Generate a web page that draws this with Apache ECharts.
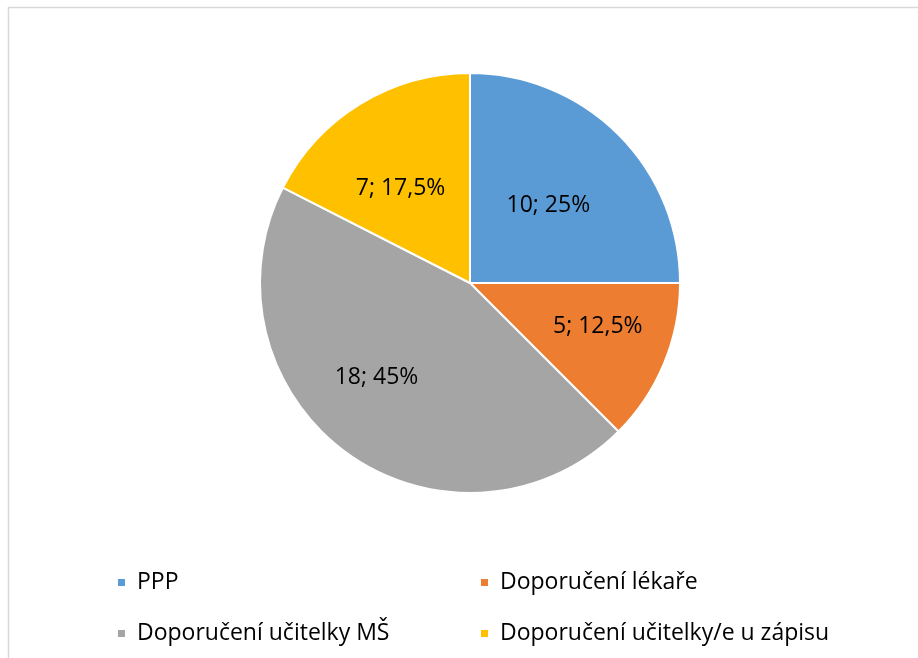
<!DOCTYPE html>
<html>
<head>
<meta charset="utf-8">
<script src="https://cdn.jsdelivr.net/npm/echarts@6/dist/echarts.min.js"></script>
<style>
  html, body { margin: 0; padding: 0; background: #fff; }
  #chart { width: 918px; height: 658px; }
</style>
</head>
<body>
<div id="chart"></div>
<script>
const categories = ["PPP", "Doporučení lékaře", "Doporučení učitelky MŠ", "Doporučení učitelky/e u zápisu"];
const counts = [10, 5, 18, 7];
const colors = ["#5B9BD5", "#ED7D31", "#A5A5A5", "#FFC000"];

const FONT = "Open Sans";
const FONT_SIZE = 23;
// posun popisků jako v Excelu (ne přesně do středu poloměru)
const labelOffsets = [[2, -1], [28, 2], [-30, 7], [-13, -2]];

const chart = echarts.init(document.getElementById("chart"));

const legendBase = {
  orient: "vertical",
  icon: "rect",
  itemWidth: 9,
  itemHeight: 9,
  itemGap: 28,
  textStyle: { fontFamily: FONT, fontSize: FONT_SIZE, color: "#000", padding: [0, 0, 0, 6] },
};

const option = {
  animation: false,
  backgroundColor: "#fff",
  color: colors,
  graphic: [
    {
      type: "rect",
      shape: { x: 8.5, y: 7.5, width: 920, height: 660 },
      style: { fill: "none", stroke: "#D9D9D9", lineWidth: 1.5 },
    },
  ],
  legend: [
    { ...legendBase, left: 111, top: 566, data: [categories[0], categories[2]] },
    { ...legendBase, left: 474, top: 566, data: [categories[1], categories[3]] },
  ],
  series: [
    {
      type: "pie",
      center: [470, 283],
      radius: 210,
      startAngle: 90,
      clockwise: true,
      itemStyle: { borderColor: "#fff", borderWidth: 2 },
      label: {
        show: true,
        position: "inside",
        fontFamily: FONT,
        fontSize: FONT_SIZE,
        color: "#000",
        formatter: (p) => p.value + "; " + String(p.percent).replace(".", ",") + "%",
      },
      labelLine: { show: false },
      emphasis: { disabled: true },
      data: categories.map((name, i) => ({
        name,
        value: counts[i],
        label: { offset: labelOffsets[i] },
      })),
    },
  ],
};

chart.setOption(option);
</script>
</body>
</html>
